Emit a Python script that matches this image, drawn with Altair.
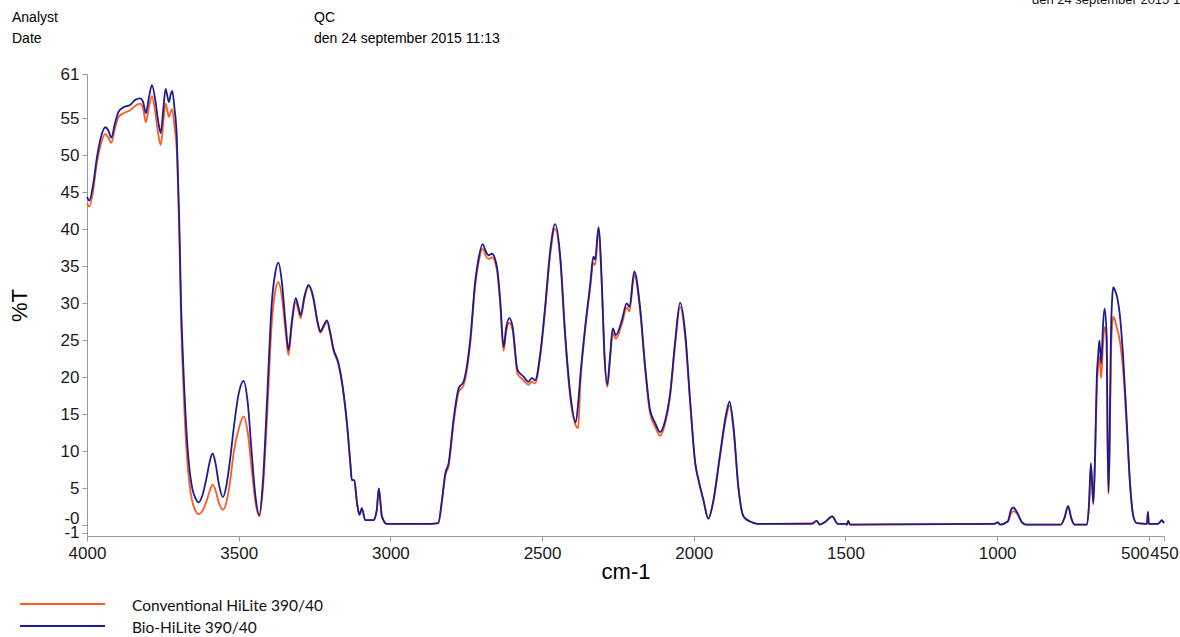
import altair as alt
import pandas as pd

# Infrared transmission spectra of two HiLite 390/40 filters (%T vs. wavenumber)
WAVENUMBER = [
    4000, 3992, 3980, 3967, 3955, 3940, 3930, 3920, 3908, 3896, 3880, 3858, 3841, 3825,
    3815, 3806, 3796, 3786, 3775, 3765, 3757, 3749, 3741, 3735, 3730, 3724, 3719, 3712,
    3704, 3696, 3690, 3682, 3671, 3662, 3654, 3643, 3632, 3620, 3605, 3595, 3586, 3577,
    3565, 3552, 3540, 3528, 3517, 3500, 3484, 3470, 3457, 3445, 3432, 3420, 3407, 3391,
    3380, 3369, 3358, 3345, 3336, 3325, 3312, 3303, 3296, 3283, 3270, 3255, 3240, 3231,
    3220, 3209, 3198, 3188, 3171, 3154, 3143, 3132, 3127, 3119, 3110, 3102, 3094, 3083,
    3056, 3045, 3038, 3028, 3012, 2869, 2842, 2830, 2819, 2808, 2792, 2775, 2759, 2737,
    2720, 2710, 2696, 2685, 2677, 2665, 2649, 2638, 2627, 2618, 2608, 2597, 2581, 2561,
    2545, 2534, 2523, 2506, 2490, 2473, 2457, 2440, 2424, 2407, 2389, 2381, 2374, 2358,
    2341, 2331, 2325, 2314, 2303, 2295, 2285, 2276, 2267, 2257, 2237, 2221, 2212, 2196,
    2177, 2160, 2144, 2127, 2111, 2094, 2078, 2061, 2045, 2028, 2012, 1995, 1984, 1968,
    1952, 1935, 1913, 1893, 1882, 1869, 1853, 1836, 1814, 1790, 1610, 1595, 1585, 1565,
    1544, 1525, 1500, 1495, 1491, 1485, 1010, 998, 990, 965, 955, 947, 935, 918,
    905, 790, 778, 766, 756, 745, 704, 697, 691, 686, 683, 677, 671.5, 667,
    663, 657, 651, 646, 639, 636, 633, 629, 625, 621, 617, 612, 606, 595,
    584, 573, 562, 551, 540, 506, 503, 500, 470, 462, 457, 452, 450,
]

BIO_HILITE = [
    44.4, 43.9, 46.0, 49.8, 52.3, 53.8, 53.4, 52.4, 54.3, 55.9, 56.5, 56.8, 57.5, 57.7,
    57.2, 55.7, 57.8, 59.5, 57.5, 54.5, 53.0, 56.0, 59.0, 58.0, 57.2, 58.3, 58.7, 56.5,
    52.5, 41.3, 30.0, 21.0, 12.0, 7.5, 5.2, 3.7, 3.1, 4.0, 6.6, 8.7, 9.7, 8.5,
    5.5, 3.8, 5.5, 9.0, 12.9, 17.8, 19.5, 16.5, 9.7, 4.0, 1.4, 6.0, 16.5, 30.0,
    34.0, 35.5, 33.0, 27.0, 23.7, 27.5, 30.7, 29.5, 28.4, 31.0, 32.5, 31.0, 27.5, 26.2,
    27.0, 27.7, 26.0, 23.9, 21.9, 17.8, 13.8, 8.4, 6.1, 6.1, 3.0, 1.4, 2.3, 0.7,
    0.7, 2.0, 5.0, 1.2, 0.2, 0.2, 0.3, 3.4, 7.0, 8.4, 14.2, 18.5, 19.4, 25.0,
    33.1, 35.9, 38.0, 37.0, 36.5, 36.7, 35.0, 30.4, 24.1, 26.8, 28.0, 26.8, 21.0, 20.1,
    19.4, 19.9, 19.6, 23.2, 29.5, 37.2, 40.7, 36.3, 25.9, 17.8, 13.9, 16.5, 20.1, 26.8,
    32.7, 36.3, 35.9, 40.3, 32.7, 23.7, 19.0, 22.8, 26.6, 25.7, 27.7, 30.0, 29.5, 34.3,
    29.5, 21.4, 15.6, 13.8, 12.6, 14.2, 17.8, 25.0, 30.1, 25.9, 16.9, 8.4, 6.1, 3.4,
    0.9, 3.4, 9.7, 15.1, 16.7, 13.3, 5.2, 1.2, 0.5, 0.2, 0.2, 0.6, 0.1, 0.5,
    1.2, 0.2, 0.2, 0.1, 0.6, 0.1, 0.2, 0.4, 0.1, 0.5, 2.0, 2.4, 1.8, 0.4,
    0.1, 0.1, 1.0, 2.6, 1.0, 0.1, 0.1, 3.0, 8.4, 5.0, 3.0, 10.0, 20.1, 23.0,
    25.0, 21.9, 27.0, 29.3, 25.5, 12.0, 4.5, 12.0, 25.5, 30.5, 32.2, 31.8, 31.1, 28.2,
    22.3, 14.2, 5.7, 1.2, 0.3, 0.2, 1.8, 0.2, 0.2, 0.5, 0.7, 0.4, 0.5,
]

CONVENTIONAL = [
    43.5, 43.1, 45.2, 49.1, 51.4, 52.9, 52.4, 51.7, 53.6, 55.2, 55.7, 56.1, 56.7, 57.0,
    56.3, 54.5, 56.5, 58.0, 55.8, 52.8, 51.4, 54.2, 57.0, 56.0, 55.2, 55.9, 56.2, 54.0,
    50.5, 39.5, 28.0, 18.5, 9.5, 5.5, 3.4, 2.0, 1.5, 1.9, 3.4, 4.7, 5.5, 4.8,
    3.0, 2.1, 3.2, 6.0, 9.7, 13.0, 14.7, 12.5, 7.5, 3.2, 1.2, 5.0, 14.2, 27.3,
    31.5, 32.9, 31.0, 26.0, 23.0, 27.0, 30.2, 29.0, 28.0, 30.7, 32.3, 30.8, 27.3, 26.0,
    26.8, 27.5, 25.8, 23.7, 21.7, 17.6, 13.6, 8.3, 6.1, 6.1, 3.0, 1.4, 2.3, 0.7,
    0.7, 2.0, 5.0, 1.2, 0.2, 0.2, 0.3, 3.2, 6.7, 8.0, 13.7, 18.0, 18.9, 24.4,
    32.5, 35.3, 37.4, 36.4, 36.0, 36.2, 34.5, 29.9, 23.6, 26.2, 27.4, 26.3, 20.5, 19.6,
    19.0, 19.4, 19.2, 22.8, 29.0, 36.6, 40.1, 35.8, 25.4, 17.2, 13.5, 13.1, 19.0, 26.3,
    32.2, 35.5, 35.2, 39.7, 32.2, 23.3, 18.7, 22.4, 26.0, 25.2, 27.2, 29.4, 28.9, 33.8,
    29.0, 20.9, 15.1, 13.3, 12.1, 13.8, 17.4, 24.5, 29.5, 25.3, 16.5, 8.2, 6.0, 3.3,
    0.9, 3.3, 9.4, 14.6, 16.2, 12.9, 5.1, 1.2, 0.5, 0.2, 0.3, 0.6, 0.1, 0.5,
    1.2, 0.2, 0.2, 0.1, 0.6, 0.1, 0.2, 0.4, 0.1, 0.5, 1.5, 1.9, 1.6, 0.4,
    0.1, 0.1, 1.0, 2.6, 1.0, 0.1, 0.1, 2.8, 8.0, 4.6, 2.8, 9.0, 18.5, 21.5,
    22.8, 19.9, 24.5, 26.8, 25.0, 11.0, 4.2, 11.0, 22.5, 27.0, 28.2, 27.8, 26.8, 24.8,
    20.5, 13.3, 5.5, 1.2, 0.3, 0.2, 1.8, 0.2, 0.2, 0.5, 0.7, 0.4, 0.5,
]

SERIES = ["Conventional HiLite 390/40", "Bio-HiLite 390/40"]
COLORS = ["#FF5A1F", "#1E1B93"]

X_TICKS = [4000, 3500, 3000, 2500, 2000, 1500, 1000, 500, 450]
Y_TICKS = [61, 55, 50, 45, 40, 35, 30, 25, 20, 15, 10, 5, 0, -1]

HEADER_KEYS = ["Analyst", "Date"]
HEADER_VALUES = ["QC", "den 24 september 2015 11:13"]

# plot-area geometry (pixels)
W, H = 1077, 462
LEFT, TOP = 87, 74
PAGE_W, PAGE_H = 1180, 637

n = len(WAVENUMBER)
spectra = pd.DataFrame({
    "cm": WAVENUMBER * 2,
    "T": CONVENTIONAL + BIO_HILITE,
    "series": [SERIES[0]] * n + [SERIES[1]] * n,
})

AXIS_GRAY = "#9a9a9a"
TICK_FONT = "Liberation Sans"

color_scale = alt.Scale(domain=SERIES, range=COLORS)

x_enc = alt.X(
    "cm:Q",
    scale=alt.Scale(domain=[4000, 450], nice=False, zero=False),
    axis=alt.Axis(
        values=X_TICKS,
        format="d",
        title="cm-1",
        grid=False,
        labelOverlap=False,
        labelFlush=False,
        labelAlign={"condition": {"test": "datum.value == 500", "value": "right"}, "value": "center"},
        labelFont=TICK_FONT,
        labelFontSize=17,
        labelColor="#1a1a1a",
        labelPadding=4,
        domainColor=AXIS_GRAY,
        tickColor=AXIS_GRAY,
        tickSize=5,
        titleFont=TICK_FONT,
        titleFontSize=22,
        titleFontWeight="normal",
        titleColor="#000000",
        titlePadding=0,
    ),
)

y_enc = alt.Y(
    "T:Q",
    scale=alt.Scale(domain=[-1.45, 61], nice=False, zero=False),
    axis=alt.Axis(
        values=Y_TICKS,
        title="%T",
        grid=False,
        labelOverlap=False,
        labelFlush=False,
        labelExpr="datum.value == 0 ? '-0' : (datum.value < 0 ? '-' + abs(datum.value) : '' + datum.value)",
        labelOffset={"condition": {"test": "datum.value == 0", "value": -7}, "value": 0},
        labelFont=TICK_FONT,
        labelFontSize=17,
        labelColor="#1a1a1a",
        labelPadding=3,
        domainColor=AXIS_GRAY,
        tickColor=AXIS_GRAY,
        tickSize=5,
        titleFont=TICK_FONT,
        titleFontSize=22,
        titleFontWeight="normal",
        titleColor="#000000",
        titlePadding=29,
    ),
)


def spectrum(name):
    return (
        alt.Chart(spectra)
        .transform_filter(alt.datum.series == name)
        .mark_line(strokeWidth=1.8, interpolate="monotone")
        .encode(
            x=x_enc,
            y=y_enc,
            color=alt.Color("series:N", scale=color_scale, legend=None),
        )
    )


layers = [spectrum(SERIES[0]), spectrum(SERIES[1])]

# legend drawn below the axes: a coloured stroke and its label per series
LEG_Y = [604, 626]
for name, ly in zip(SERIES, LEG_Y):
    one = pd.DataFrame({"series": [name]})
    layers.append(
        alt.Chart(one).mark_rule(strokeWidth=2).encode(
            x=alt.value(20 - LEFT),
            x2=alt.value(105 - LEFT),
            y=alt.value(ly - TOP),
            color=alt.Color("series:N", scale=color_scale, legend=None),
        )
    )
    layers.append(
        alt.Chart(one).mark_text(align="left", baseline="middle", font="Lato", fontSize=15.5, color="#111111").encode(
            x=alt.value(132 - LEFT),
            y=alt.value(ly + 2 - TOP),
            text="series:N",
        )
    )

# report header
header = pd.DataFrame({"key": HEADER_KEYS, "value": HEADER_VALUES})
for i, base in enumerate([22, 43]):
    row = header.iloc[[i]]
    layers.append(
        alt.Chart(row).mark_text(align="left", baseline="alphabetic", font=TICK_FONT, fontSize=14, color="#000000").encode(
            x=alt.value(12 - LEFT), y=alt.value(base - TOP), text="key:N"
        )
    )
    layers.append(
        alt.Chart(row).mark_text(align="left", baseline="alphabetic", font=TICK_FONT, fontSize=14, color="#000000").encode(
            x=alt.value(314 - LEFT), y=alt.value(base - TOP), text="value:N"
        )
    )

# page stamp in the top-right corner, running off the page edge
layers.append(
    alt.Chart(header.iloc[[1]]).mark_text(align="left", baseline="alphabetic", font=TICK_FONT, fontSize=13, color="#111111").encode(
        x=alt.value(1032 - LEFT), y=alt.value(4 - TOP), text="value:N"
    )
)

chart = (
    alt.layer(*layers)
    .properties(
        width=W,
        height=H,
        autosize=alt.AutoSizeParams(type="none"),
        padding={"left": LEFT, "top": TOP, "right": PAGE_W - LEFT - W, "bottom": PAGE_H - TOP - H},
        background="white",
    )
    .configure_view(stroke=None)
)

chart.save("out.html", embed_options={"renderer": "svg", "actions": False})
